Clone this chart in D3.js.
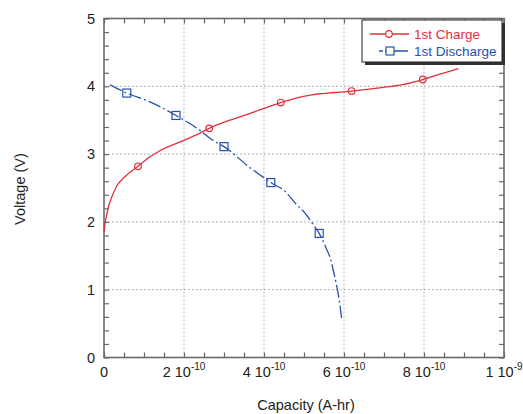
<!DOCTYPE html>
<html>
<head>
<meta charset="utf-8">
<script src="https://cdn.jsdelivr.net/npm/d3@7"></script>
<style>
  html, body { margin: 0; padding: 0; background: #fff; }
  svg { display: block; font-family: "Liberation Sans", Arial, Helvetica, sans-serif; }
</style>
</head>
<body>
<svg id="chart" width="523" height="414"></svg>
<script>
// Capacity values in A-hr, voltage in V
const chargeCap = [0, 0.02e-10, 0.04e-10, 0.1e-10, 0.19e-10, 0.32e-10, 0.53e-10, 0.85e-10, 1.15e-10, 1.4e-10,
  1.9e-10, 2.4e-10, 2.63e-10, 3.15e-10, 3.4e-10, 3.98e-10, 4.42e-10, 4.9e-10, 5.4e-10, 5.6e-10,
  6.19e-10, 7.07e-10, 7.5e-10, 7.97e-10, 8.4e-10, 8.86e-10];
const chargeV = [1.86, 1.95, 2.02, 2.20, 2.36, 2.53, 2.67, 2.82, 2.96, 3.05,
  3.18, 3.31, 3.38, 3.50, 3.55, 3.67, 3.76, 3.84, 3.89, 3.90,
  3.93, 3.99, 4.03, 4.10, 4.18, 4.26];
const chargeMarkerCap = [0.85e-10, 2.63e-10, 4.42e-10, 6.19e-10, 7.97e-10];

const dischargeCap = [0.15e-10, 0.57e-10, 1.15e-10, 1.8e-10, 2.4e-10, 2.73e-10, 3.0e-10, 3.65e-10, 3.98e-10,
  4.17e-10, 4.53e-10, 4.82e-10, 4.98e-10, 5.23e-10, 5.38e-10, 5.57e-10, 5.67e-10, 5.73e-10, 5.82e-10,
  5.88e-10, 5.94e-10];
const dischargeV = [4.02, 3.90, 3.77, 3.57, 3.35, 3.20, 3.11, 2.80, 2.66,
  2.58, 2.45, 2.25, 2.16, 1.96, 1.83, 1.59, 1.44, 1.29, 1.05,
  0.85, 0.58];
const dischargeMarkerCap = [0.57e-10, 1.8e-10, 3.0e-10, 4.17e-10, 5.38e-10];

const xTickValues = [0, 2e-10, 4e-10, 6e-10, 8e-10, 1e-9];
const xTickMantissa = ["0", "2 10", "4 10", "6 10", "8 10", "1 10"];
const xTickExponent = ["", "-10", "-10", "-10", "-10", "-9"];
const yTickValues = [0, 1, 2, 3, 4, 5];
const seriesNames = ["1st Charge", "1st Discharge"];

const RED = "#e1303c";
const BLUE = "#2552ad";
const AXIS = "#6a6a6a";

const svg = d3.select("#chart");
const x = d3.scaleLinear().domain([0, 1e-9]).range([104, 504]);
const y = d3.scaleLinear().domain([0, 5]).range([357.5, 18.5]);
const [x0, x1] = x.range();
const [y0, y1] = y.range();

// Dotted grid at the major ticks
const grid = svg.append("g").attr("stroke", "#b0b0b0").attr("stroke-width", 1).attr("stroke-dasharray", "2,2");
xTickValues.slice(1, -1).forEach(v => {
  grid.append("line").attr("x1", x(v)).attr("x2", x(v)).attr("y1", y0).attr("y2", y1);
});
yTickValues.slice(1, -1).forEach(v => {
  grid.append("line").attr("x1", x0).attr("x2", x1).attr("y1", y(v)).attr("y2", y(v));
});

// Inward ticks on all four sides
const xMinor = d3.range(0, 21).map(i => i * 0.5e-10);
const yMinor = d3.range(0, 26).map(i => i * 0.2);
const tickLen = 5;
svg.append("g").call(d3.axisBottom(x).tickValues(xMinor).tickSize(-tickLen).tickFormat(""))
  .attr("transform", `translate(0,${y0})`);
svg.append("g").call(d3.axisTop(x).tickValues(xMinor).tickSize(-tickLen).tickFormat(""))
  .attr("transform", `translate(0,${y1})`);
svg.append("g").call(d3.axisLeft(y).tickValues(yMinor).tickSize(-tickLen).tickFormat(""))
  .attr("transform", `translate(${x0},0)`);
svg.append("g").call(d3.axisRight(y).tickValues(yMinor).tickSize(-tickLen).tickFormat(""))
  .attr("transform", `translate(${x1},0)`);
svg.selectAll(".domain").remove();
svg.selectAll(".tick line").attr("stroke", AXIS).attr("stroke-width", 1.2);

// Frame
svg.append("rect").attr("x", x0).attr("y", y1).attr("width", x1 - x0).attr("height", y0 - y1)
  .attr("fill", "none").attr("stroke", AXIS).attr("stroke-width", 1.6);

// Tick labels
const xl = svg.append("g").attr("font-size", 14.5).attr("fill", "#222").attr("text-anchor", "middle");
xTickValues.forEach((v, i) => {
  const t = xl.append("text").attr("x", x(v)).attr("y", 377);
  t.append("tspan").text(xTickMantissa[i]);
  if (xTickExponent[i]) {
    t.append("tspan").attr("font-size", 10).attr("dy", -7).text(xTickExponent[i]);
  }
});
const yl = svg.append("g").attr("font-size", 14.5).attr("fill", "#222").attr("text-anchor", "end");
yTickValues.forEach(v => {
  yl.append("text").attr("x", 95).attr("y", y(v) + 5).text(v);
});

// Axis titles
svg.append("text").attr("x", 306).attr("y", 410).attr("text-anchor", "middle")
  .attr("font-size", 14.5).attr("fill", "#222").text("Capacity (A-hr)");
svg.append("text").attr("transform", "translate(25,189) rotate(-90)").attr("text-anchor", "middle")
  .attr("font-size", 14.5).attr("fill", "#222").text("Voltage (V)");

// Series
const charge = chargeCap.map((c, i) => ({ c, v: chargeV[i] }));
const discharge = dischargeCap.map((c, i) => ({ c, v: dischargeV[i] }));
const line = d3.line().x(d => x(d.c)).y(d => y(d.v)).curve(d3.curveMonotoneX);

svg.append("path").datum(charge).attr("d", line)
  .attr("fill", "none").attr("stroke", RED).attr("stroke-width", 1.3);
svg.append("path").datum(discharge).attr("d", line)
  .attr("fill", "none").attr("stroke", BLUE).attr("stroke-width", 1.3).attr("stroke-dasharray", "13,3,2,3");

svg.append("g").selectAll("circle")
  .data(charge.filter(d => chargeMarkerCap.includes(d.c)))
  .join("circle").attr("cx", d => x(d.c)).attr("cy", d => y(d.v)).attr("r", 3.3)
  .attr("fill", "none").attr("stroke", RED).attr("stroke-width", 1.2);
svg.append("g").selectAll("rect")
  .data(discharge.filter(d => dischargeMarkerCap.includes(d.c)))
  .join("rect").attr("x", d => x(d.c) - 4).attr("y", d => y(d.v) - 4).attr("width", 8).attr("height", 8)
  .attr("fill", "none").attr("stroke", BLUE).attr("stroke-width", 1.2);

// Legend with drop shadow
const lg = svg.append("g");
lg.append("rect").attr("x", 365).attr("y", 23).attr("width", 140).attr("height", 42).attr("fill", "#333");
lg.append("rect").attr("x", 362).attr("y", 20).attr("width", 140).attr("height", 42)
  .attr("fill", "#fff").attr("stroke", "#222").attr("stroke-width", 1);
lg.append("line").attr("x1", 370).attr("x2", 409).attr("y1", 34).attr("y2", 34)
  .attr("stroke", RED).attr("stroke-width", 1.3);
lg.append("circle").attr("cx", 389).attr("cy", 34).attr("r", 3.3)
  .attr("fill", "#fff").attr("stroke", RED).attr("stroke-width", 1.2);
lg.append("line").attr("x1", 379).attr("x2", 408).attr("y1", 51).attr("y2", 51)
  .attr("stroke", BLUE).attr("stroke-width", 1.3).attr("stroke-dasharray", "4,2,20,0");
lg.append("rect").attr("x", 386).attr("y", 47).attr("width", 8).attr("height", 8)
  .attr("fill", "#fff").attr("stroke", BLUE).attr("stroke-width", 1.2);
lg.append("text").attr("x", 414).attr("y", 39).attr("font-size", 13.5).attr("fill", RED).text(seriesNames[0]);
lg.append("text").attr("x", 414).attr("y", 56).attr("font-size", 13.5).attr("fill", BLUE).text(seriesNames[1]);
</script>
</body>
</html>
